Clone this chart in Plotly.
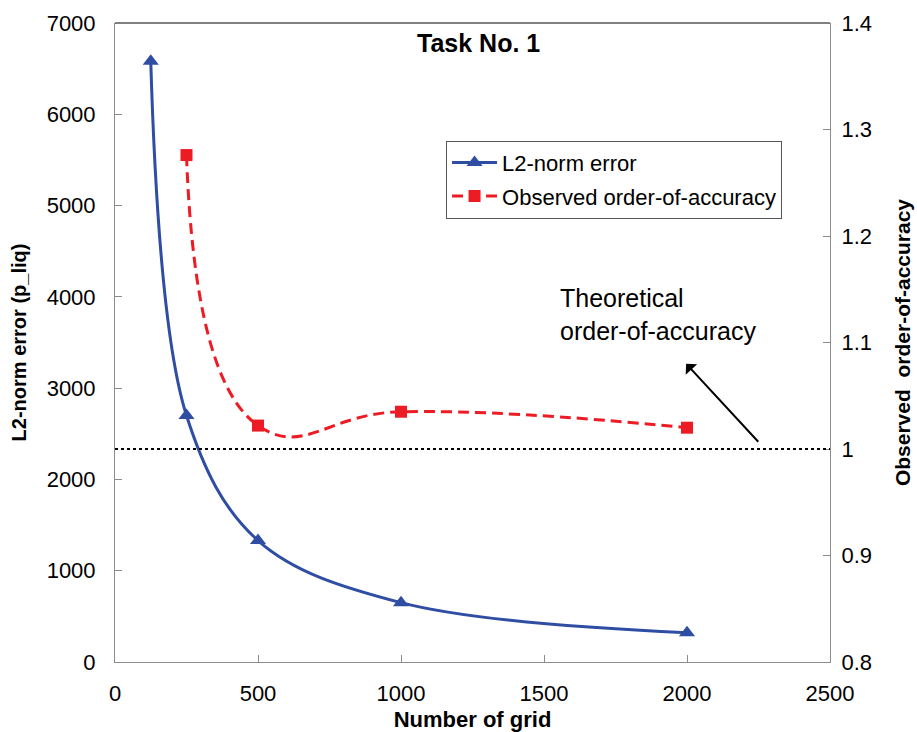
import plotly.graph_objects as go

grid_err = [125, 250, 500, 1000, 2000]
l2_error = [6580, 2700, 1330, 650, 320]

grid_ord = [250, 500, 1000, 2000]
obs_order = [1.276, 1.022, 1.035, 1.020]

theoretical_order = 1.0

x_ticks = [0, 500, 1000, 1500, 2000, 2500]
y_ticks = [0, 1000, 2000, 3000, 4000, 5000, 6000, 7000]
y2_ticks = [0.8, 0.9, 1.0, 1.1, 1.2, 1.3, 1.4]

BLUE = "#2E4DA3"
RED = "#ED1C24"
FONT = "Liberation Sans, Arial, sans-serif"

fig = go.Figure()
fig.add_trace(go.Scatter(
    x=grid_err, y=l2_error, name="L2-norm error", mode="lines+markers",
    line=dict(color=BLUE, width=3, shape="spline", smoothing=1),
    marker=dict(symbol="triangle-up", size=14, color=BLUE),
    legendgroup="a", yaxis="y",
))
fig.add_trace(go.Scatter(
    x=grid_ord, y=obs_order, name="Observed order-of-accuracy", mode="lines+markers",
    line=dict(color=RED, width=3, dash="11px,6px", shape="spline", smoothing=1.3),
    marker=dict(symbol="square", size=12, color=RED),
    legendgroup="b", yaxis="y2",
))

fig.add_shape(type="line", xref="paper", x0=0, x1=1, yref="y2",
              y0=theoretical_order, y1=theoretical_order,
              line=dict(color="black", width=2, dash="dot"))
# top border
fig.add_shape(type="line", xref="paper", x0=0, x1=1, yref="paper", y0=1, y1=1,
              line=dict(color="black", width=1))

fig.add_annotation(x=0.508, y=0.968, xref="paper", yref="paper",
                   xanchor="center", yanchor="middle",
                   text="<b>Task No. 1</b>", showarrow=False,
                   font=dict(size=25, color="black", family=FONT))
fig.add_annotation(x=1549, y=1.157, xref="x", yref="y2",
                   text="Theoretical<br>order-of-accuracy", showarrow=False,
                   xanchor="left", yanchor="top", align="left",
                   font=dict(size=25, color="black", family=FONT))
fig.add_annotation(x=1997, y=1.080, xref="x", yref="y2",
                   ax=2254, ay=1.0054, axref="x", ayref="y2",
                   text="", showarrow=True, arrowhead=1, arrowsize=1.3,
                   arrowwidth=2, arrowcolor="black")

axis_common = dict(showgrid=False, zeroline=False, showline=True,
                   linecolor="#8C8C8C", linewidth=1, ticks="inside",
                   ticklen=7, tickcolor="#8C8C8C", automargin=False,
                   tickfont=dict(size=22, color="black", family=FONT))

fig.update_layout(
    width=917, height=732,
    margin=dict(l=115, r=87, t=23, b=70),
    paper_bgcolor="white", plot_bgcolor="white",
    font=dict(family=FONT, color="black"),
    xaxis=dict(range=[0, 2500], tickvals=x_ticks, ticklabelstandoff=12,
               title=dict(text="<b>Number of grid</b>", font=dict(size=22), standoff=8),
               **axis_common),
    yaxis=dict(range=[0, 7000], tickvals=y_ticks, ticklabelstandoff=14,
               title=dict(text="<b>L2-norm error (p_liq)</b>", font=dict(size=20), standoff=14),
               **axis_common),
    yaxis2=dict(range=[0.8, 1.4], tickvals=y2_ticks, overlaying="y", side="right",
                ticklabelstandoff=6,
                title=dict(text="<b>Observed&nbsp; order-of-accuracy</b>", font=dict(size=21), standoff=24),
                **axis_common),
    legend=dict(x=0.463, y=0.816, xanchor="left", yanchor="top",
                bordercolor="#555555", borderwidth=1, bgcolor="white",
                font=dict(size=22, color="black", family=FONT),
                itemwidth=45, tracegroupgap=2, traceorder="grouped"),
    showlegend=True,
)

fig.write_html("out.html")
